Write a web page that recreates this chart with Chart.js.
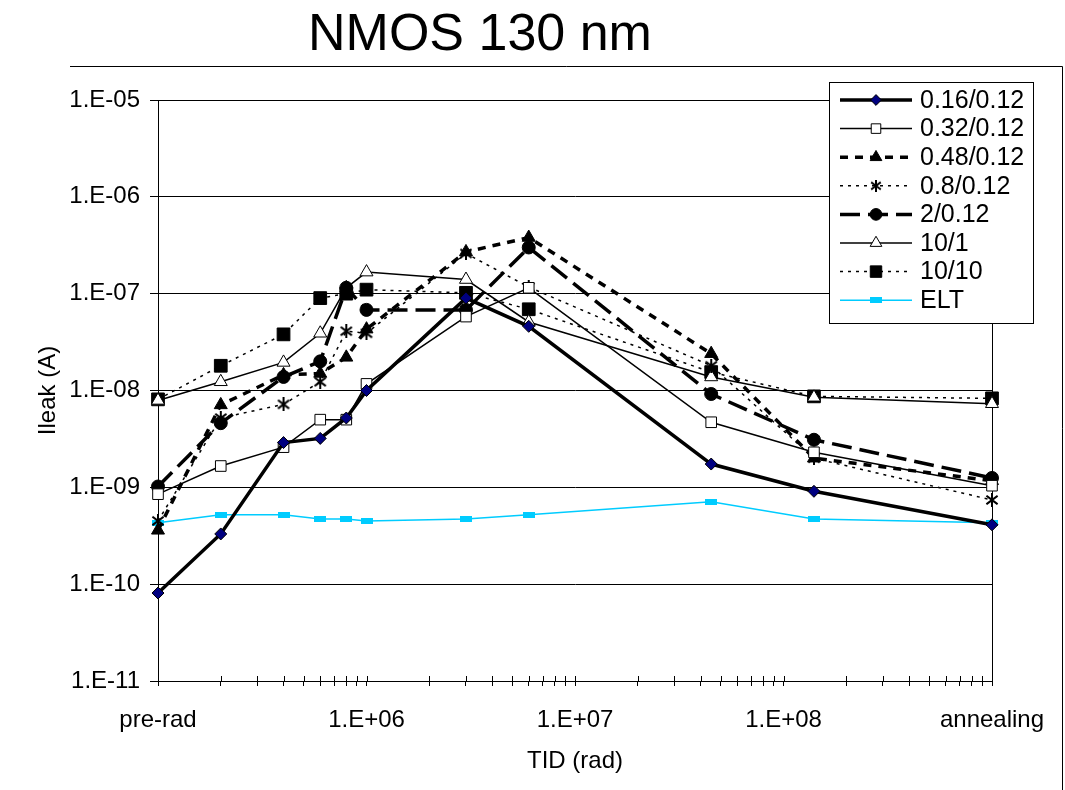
<!DOCTYPE html>
<html>
<head>
<meta charset="utf-8">
<title>NMOS 130 nm</title>
<script src="https://cdn.jsdelivr.net/npm/chart.js@4.4.1/dist/chart.umd.min.js"></script>
<style>
  html, body { margin: 0; padding: 0; background: #fff; }
  #wrap { position: relative; width: 1065px; height: 790px; overflow: hidden; }
  #title {
    position: absolute; left: 0; top: 2px; width: 960px;
    text-align: center; color: #000;
    font: 52px 'Liberation Sans', Arial, sans-serif;
  }
</style>
</head>
<body>
<div id="wrap">
  <canvas id="chart" width="1065" height="790"></canvas>
  <div id="title">NMOS 130 nm</div>
</div>
<script>
// --- data (TID in rad, Ileak in A) ---
const xValues = [1e5, 2e5, 4e5, 6e5, 8e5, 1e6, 3e6, 6e6, 4.5e7, 1.4e8, 1e9];

const s016  = [8.1e-11, 3.3e-10, 2.9e-9, 3.2e-9, 5.2e-9, 1.0e-8, 9.0e-8, 4.6e-8, 1.74e-9, 9.1e-10, 4.1e-10];
const s032  = [8.5e-10, 1.66e-9, 2.6e-9, 5.0e-9, 5.0e-9, 1.17e-8, 5.8e-8, 1.15e-7, 4.7e-9, 2.3e-9, 1.04e-9];
const s048  = [3.6e-10, 7.1e-9, 1.45e-8, 1.5e-8, 2.2e-8, 4.3e-8, 2.7e-7, 3.8e-7, 2.4e-8, 2.0e-9, 1.17e-9];
const s08   = [4.5e-10, 5.2e-9, 7.2e-9, 1.23e-8, 4.1e-8, 3.9e-8, 2.6e-7, 1.17e-7, 1.8e-8, 2.0e-9, 7.4e-10];
const s2    = [1.02e-9, 4.6e-9, 1.38e-8, 2.0e-8, 1.15e-7, 6.8e-8, 6.8e-8, 3.0e-7, 9.2e-9, 3.1e-9, 1.25e-9];
const s101  = [7.9e-9, 1.23e-8, 1.95e-8, 3.9e-8, 1.15e-7, 1.67e-7, 1.4e-7, 5.1e-8, 1.38e-8, 8.5e-9, 7.3e-9];
const s1010 = [8.1e-9, 1.8e-8, 3.8e-8, 9.0e-8, 1.0e-7, 1.1e-7, 1.02e-7, 6.9e-8, 1.55e-8, 8.7e-9, 8.3e-9];
const sELT  = [4.3e-10, 5.2e-10, 5.2e-10, 4.7e-10, 4.7e-10, 4.5e-10, 4.7e-10, 5.2e-10, 7.1e-10, 4.7e-10, 4.3e-10];

const xMajorValues = [1e5, 1e6, 1e7, 1e8, 1e9];
const xMajorLabels = ['pre-rad', '1.E+06', '1.E+07', '1.E+08', 'annealing'];
const yTickValues = [1e-11, 1e-10, 1e-9, 1e-8, 1e-7, 1e-6, 1e-5];
const yTickLabels = ['1.E-11', '1.E-10', '1.E-09', '1.E-08', '1.E-07', '1.E-06', '1.E-05'];

const FONT = "'Liberation Sans', Arial, sans-serif";
Chart.defaults.font.family = FONT;
Chart.defaults.color = '#000';

// small cyan bar used as the ELT marker
const eltMark = document.createElement('canvas');
eltMark.width = 12;
eltMark.height = 6;
const ec = eltMark.getContext('2d');
ec.fillStyle = '#00CCFF';
ec.fillRect(0, 0, 12, 6);

// Excel-style asterisk: an X with a vertical stroke
function asterisk(size) {
    const c = document.createElement('canvas');
    c.width = size;
    c.height = size;
    const g = c.getContext('2d');
    const h = size / 2, r = size / 2 - 1;
    g.strokeStyle = '#000';
    g.lineWidth = 2;
    g.lineCap = 'square';
    g.beginPath();
    g.moveTo(h - r * 0.8, h - r * 0.6); g.lineTo(h + r * 0.8, h + r * 0.6);
    g.moveTo(h + r * 0.8, h - r * 0.6); g.lineTo(h - r * 0.8, h + r * 0.6);
    g.moveTo(h, h - r); g.lineTo(h, h + r);
    g.stroke();
    return c;
}
const starMark = asterisk(14);
const starMarkSmall = asterisk(12);

function pts(arr) {
    return arr.map((v, i) => ({ x: xValues[i], y: v }));
}

function series(label, arr, style) {
    return Object.assign({
        label,
        data: pts(arr),
        borderColor: '#000',
        borderWidth: 1.5,
        borderDash: [],
        pointBorderColor: '#000',
        pointBorderWidth: 1,
        pointHoverRadius: 0,
        tension: 0,
        fill: false,
        clip: false,
    }, style);
}

const datasets = [
    series('0.16/0.12', s016,  { borderWidth: 3.5, pointStyle: 'rectRot', pointRadius: 6, pointBackgroundColor: '#000080' }),
    series('0.32/0.12', s032,  { pointStyle: 'rect', pointRadius: 7.5, pointBackgroundColor: '#fff' }),
    series('0.48/0.12', s048,  { borderWidth: 3.5, borderDash: [8, 7], pointStyle: 'triangle', pointRadius: 7.5, pointBackgroundColor: '#000' }),
    series('0.8/0.12',  s08,   { borderDash: [3, 5], pointStyle: starMark, legendMark: starMarkSmall, pointRadius: 7, pointBorderWidth: 0, pointBackgroundColor: '#000' }),
    series('2/0.12',    s2,    { borderWidth: 3.5, borderDash: [20, 8], pointStyle: 'circle', pointRadius: 6.5, pointBackgroundColor: '#000' }),
    series('10/1',      s101,  { pointStyle: 'triangle', pointRadius: 7.5, pointBackgroundColor: '#fff' }),
    series('10/10',     s1010, { borderDash: [3, 5], pointStyle: 'rect', pointRadius: 9, pointBackgroundColor: '#000' }),
    series('ELT',       sELT,  { borderColor: '#00CCFF', borderWidth: 1.5, pointStyle: eltMark, pointRadius: 6, pointBorderWidth: 0, pointBackgroundColor: '#00CCFF', pointBorderColor: '#00CCFF' }),
];

// tick positions for the log x axis: every 1..9 x 10^n
const xTickValues = [];
for (let d = 5; d < 9; d++) {
    for (let m = 1; m < 10; m++) xTickValues.push(m * Math.pow(10, d));
}
xTickValues.push(1e9);

function majorLabel(v) {
    const i = xMajorValues.findIndex(m => Math.abs(Math.log10(m) - Math.log10(v)) < 1e-6);
    return i >= 0 ? xMajorLabels[i] : '';
}

const decor = {
    id: 'decor',
    beforeDraw(chart) {
        const ctx = chart.ctx;
        ctx.save();
        ctx.fillStyle = '#fff';
        ctx.fillRect(0, 0, chart.width, chart.height);
        // outer chart frame (top and right edges are visible)
        ctx.strokeStyle = '#000';
        ctx.lineWidth = 1;
        ctx.beginPath();
        ctx.moveTo(70, 66.5);
        ctx.lineTo(1062.5, 66.5);
        ctx.lineTo(1062.5, 790);
        ctx.stroke();
        ctx.restore();
    },
    beforeDatasetsDraw(chart) {
        const ctx = chart.ctx;
        const a = chart.chartArea;
        const xs = chart.scales.x;
        ctx.save();
        ctx.strokeStyle = '#000';
        ctx.lineWidth = 1;
        ctx.strokeRect(Math.round(a.left) + 0.5, Math.round(a.top) + 0.5,
            Math.round(a.right - a.left), Math.round(a.bottom - a.top));
        // tick marks also cross into the plot area
        ctx.beginPath();
        xs.ticks.forEach(t => {
            const px = Math.round(xs.getPixelForValue(t.value)) + 0.5;
            ctx.moveTo(px, a.bottom);
            ctx.lineTo(px, a.bottom - 5);
        });
        ctx.stroke();
        ctx.restore();
    },
    afterDraw(chart) {
        // legend box inside the top-right of the plot
        const ctx = chart.ctx;
        const box = { x: 829, y: 82, w: 204, h: 241 };
        ctx.save();
        ctx.fillStyle = '#fff';
        ctx.fillRect(box.x, box.y, box.w, box.h);
        ctx.strokeStyle = '#000';
        ctx.lineWidth = 1;
        ctx.strokeRect(box.x + 0.5, box.y + 0.5, box.w, box.h);
        chart.data.datasets.forEach((ds, i) => {
            const y = 100 + i * 28.6;
            ctx.setLineDash(ds.borderDash || []);
            ctx.strokeStyle = ds.borderColor;
            ctx.lineWidth = ds.borderWidth;
            ctx.beginPath();
            ctx.moveTo(840, y);
            ctx.lineTo(912, y);
            ctx.stroke();
            ctx.setLineDash([]);
            ctx.fillStyle = ds.pointBackgroundColor;
            ctx.strokeStyle = ds.pointBorderColor;
            ctx.lineWidth = ds.pointBorderWidth;
            Chart.helpers.drawPoint(ctx, {
                pointStyle: ds.legendMark || ds.pointStyle,
                radius: ds.pointRadius * 0.9,
                rotation: 0,
                borderWidth: ds.pointBorderWidth,
            }, 876, y);
            ctx.fillStyle = '#000';
            ctx.font = '25px ' + FONT;
            ctx.textBaseline = 'middle';
            ctx.textAlign = 'left';
            ctx.fillText(ds.label, 920, y + 1);
        });
        ctx.restore();
    },
};

new Chart(document.getElementById('chart'), {
    type: 'line',
    data: { datasets },
    options: {
        responsive: false,
        animation: false,
        devicePixelRatio: 1,
        layout: { padding: { top: 100, right: 73, left: 0, bottom: 0 } },
        plugins: {
            legend: { display: false },
            tooltip: { enabled: false },
        },
        scales: {
            x: {
                type: 'logarithmic',
                min: 1e5,
                max: 1e9,
                afterBuildTicks: s => { s.ticks = xTickValues.map(v => ({ value: v })); },
                afterFit: s => { s.height = 109; },
                ticks: {
                    autoSkip: false,
                    maxRotation: 0,
                    padding: 20,
                    font: { size: 24 },
                    callback: (v) => majorLabel(v),
                },
                grid: { drawOnChartArea: false, color: '#000', tickLength: 5 },
                border: { color: '#000', width: 1 },
                title: {
                    display: true,
                    text: 'TID (rad)',
                    font: { size: 24 },
                    padding: { top: 0, bottom: 14 },
                },
            },
            y: {
                type: 'logarithmic',
                min: 1e-11,
                max: 1e-5,
                afterBuildTicks: s => { s.ticks = yTickValues.map(v => ({ value: v })); },
                afterFit: s => { s.width = 158; },
                ticks: {
                    autoSkip: false,
                    padding: 10,
                    font: { size: 24 },
                    callback: (v, i) => yTickLabels[i],
                },
                grid: { color: '#000', lineWidth: 1, tickLength: 8 },
                border: { color: '#000', width: 1 },
                title: {
                    display: true,
                    text: 'Ileak (A)',
                    font: { size: 24 },
                    padding: { top: 34, bottom: 0 },
                },
            },
        },
    },
    plugins: [decor],
});
</script>
</body>
</html>
